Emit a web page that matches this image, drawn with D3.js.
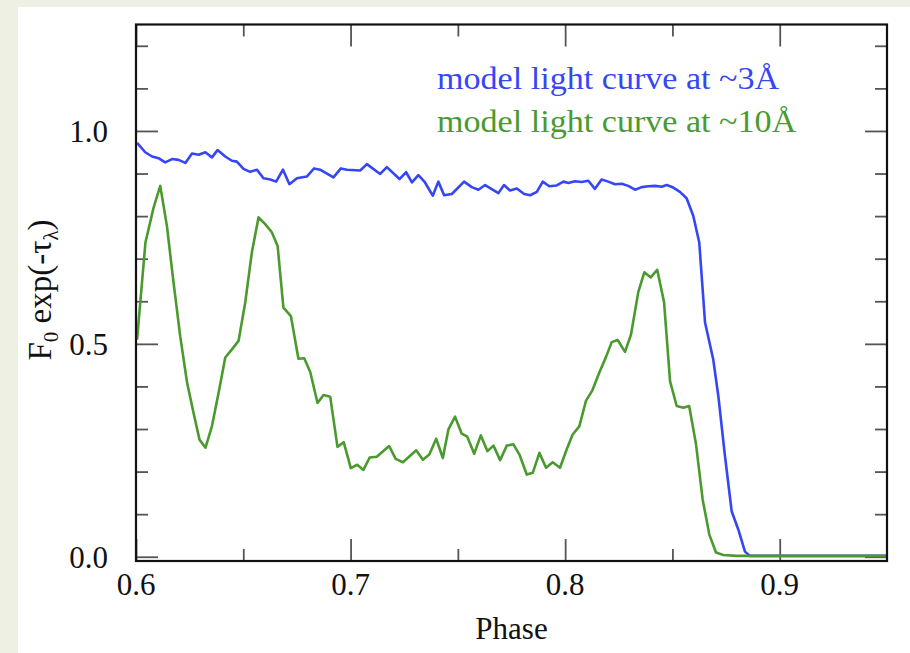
<!DOCTYPE html>
<html>
<head>
<meta charset="utf-8">
<script src="https://cdn.jsdelivr.net/npm/d3@7/dist/d3.min.js"></script>
<style>
  html, body { margin: 0; padding: 0; background: #eef0e3; }
  svg { display: block; }
  .tick-label { font-family: "Liberation Serif", "Times New Roman", serif; font-size: 31px; fill: #111; }
</style>
</head>
<body>
<svg id="chart" width="910" height="653"></svg>
<script>
// x ticks / y ticks
const xMajor = [0.6, 0.7, 0.8, 0.9];
const xMinor = [0.65, 0.75, 0.85];
const yMajor = [0.0, 0.5, 1.0];
const yMinor = [0.1, 0.2, 0.3, 0.4, 0.6, 0.7, 0.8, 0.9, 1.1, 1.2];

// model light curve at ~3Å : [phase, flux]
const curve3A = [
  [0.6005, 0.972], [0.6043, 0.950], [0.6075, 0.940], [0.6105, 0.936], [0.6136, 0.926],
  [0.6168, 0.934], [0.6198, 0.932], [0.6230, 0.925], [0.6261, 0.947], [0.6292, 0.944],
  [0.6323, 0.950], [0.6354, 0.938], [0.6380, 0.955], [0.6416, 0.940], [0.6447, 0.930],
  [0.6470, 0.928], [0.6501, 0.911], [0.6532, 0.904], [0.6564, 0.909], [0.6594, 0.889],
  [0.6626, 0.886], [0.6653, 0.881], [0.6685, 0.909], [0.6715, 0.875], [0.6750, 0.889],
  [0.6796, 0.893], [0.6830, 0.912], [0.6858, 0.909], [0.6920, 0.891], [0.6955, 0.912],
  [0.6983, 0.909], [0.7045, 0.907], [0.7076, 0.922], [0.7138, 0.899], [0.7169, 0.915],
  [0.7228, 0.887], [0.7259, 0.903], [0.7286, 0.879], [0.7316, 0.896], [0.7347, 0.879],
  [0.7383, 0.848], [0.7409, 0.881], [0.7436, 0.849], [0.7472, 0.852], [0.7529, 0.881],
  [0.7565, 0.868], [0.7596, 0.862], [0.7627, 0.873], [0.7689, 0.854], [0.7715, 0.873],
  [0.7743, 0.860], [0.7775, 0.865], [0.7809, 0.852], [0.7837, 0.849], [0.7868, 0.857],
  [0.7896, 0.881], [0.7926, 0.870], [0.7961, 0.872], [0.7992, 0.881], [0.8015, 0.878],
  [0.8046, 0.882], [0.8077, 0.880], [0.8108, 0.883], [0.8139, 0.864], [0.8170, 0.886],
  [0.8201, 0.881], [0.8232, 0.875], [0.8264, 0.876], [0.8294, 0.871], [0.8326, 0.862],
  [0.8357, 0.868], [0.8388, 0.870], [0.8419, 0.871], [0.8450, 0.869], [0.8473, 0.873],
  [0.8504, 0.867], [0.8535, 0.857], [0.8566, 0.842], [0.8597, 0.801], [0.8625, 0.738],
  [0.8652, 0.550], [0.8690, 0.464], [0.8714, 0.377], [0.8745, 0.236], [0.8776, 0.107],
  [0.8807, 0.064], [0.8838, 0.012], [0.8861, 0.002], [0.9500, 0.002]
];

// model light curve at ~10Å : [phase, flux]
const curve10A = [
  [0.6005, 0.510], [0.6044, 0.738], [0.6082, 0.820], [0.6113, 0.871], [0.6144, 0.777],
  [0.6175, 0.644], [0.6206, 0.518], [0.6238, 0.409], [0.6268, 0.338], [0.6296, 0.275],
  [0.6324, 0.256], [0.6354, 0.307], [0.6385, 0.385], [0.6416, 0.468], [0.6447, 0.487],
  [0.6478, 0.507], [0.6509, 0.597], [0.6540, 0.715], [0.6571, 0.797], [0.6602, 0.781],
  [0.6633, 0.762], [0.6660, 0.730], [0.6687, 0.585], [0.6722, 0.565], [0.6757, 0.465],
  [0.6784, 0.466], [0.6812, 0.434], [0.6846, 0.361], [0.6874, 0.380], [0.6905, 0.376],
  [0.6939, 0.258], [0.6968, 0.269], [0.7001, 0.208], [0.7031, 0.216], [0.7060, 0.204],
  [0.7089, 0.233], [0.7122, 0.235], [0.7180, 0.260], [0.7210, 0.230], [0.7244, 0.222],
  [0.7306, 0.250], [0.7337, 0.228], [0.7367, 0.240], [0.7399, 0.277], [0.7430, 0.232],
  [0.7456, 0.299], [0.7487, 0.329], [0.7518, 0.289], [0.7544, 0.282], [0.7576, 0.242],
  [0.7607, 0.285], [0.7638, 0.248], [0.7666, 0.261], [0.7697, 0.227], [0.7728, 0.261],
  [0.7759, 0.264], [0.7787, 0.240], [0.7821, 0.193], [0.7849, 0.197], [0.7880, 0.244],
  [0.7911, 0.209], [0.7942, 0.222], [0.7976, 0.209], [0.8007, 0.252], [0.8035, 0.287],
  [0.8066, 0.306], [0.8097, 0.366], [0.8126, 0.390], [0.8159, 0.432], [0.8191, 0.470],
  [0.8217, 0.504], [0.8245, 0.509], [0.8279, 0.481], [0.8307, 0.522], [0.8341, 0.622],
  [0.8369, 0.668], [0.8399, 0.656], [0.8429, 0.674], [0.8461, 0.598], [0.8489, 0.412],
  [0.8520, 0.354], [0.8551, 0.350], [0.8578, 0.354], [0.8610, 0.264], [0.8641, 0.134],
  [0.8672, 0.052], [0.8703, 0.010], [0.8737, 0.004], [0.8799, 0.002], [0.9500, 0.002]
];

const legendLabels = ["model light curve at ~3Å", "model light curve at ~10Å"];
const colors = ["#3546f5", "#4a9a2e"];

const svg = d3.select("#chart");
const W = 910, H = 653;
const m = { left: 136, right: 887, top: 24.5, bottom: 561 };

// white page panel over the tinted background
svg.append("rect").attr("x", 18).attr("y", 7).attr("width", W - 18).attr("height", H - 7).attr("fill", "#fff");

const x = d3.scaleLinear().domain([0.6, 0.95]).range([m.left, m.right]);
const y = d3.scaleLinear().domain([-0.01, 1.25]).range([m.bottom, m.top]);

// Inward ticks on all four sides (major long, minor short)
function tickAxis(axisFn, scale, values, size, tx, ty) {
    const g = svg.append("g")
        .attr("transform", `translate(${tx},${ty})`)
        .call(axisFn(scale).tickValues(values).tickSize(-size).tickFormat(""));
    g.select(".domain").remove();
    g.selectAll(".tick line").attr("stroke", "#555").attr("stroke-width", 1.8);
    return g;
}
tickAxis(d3.axisBottom, x, xMajor, 22, 0, m.bottom);
tickAxis(d3.axisBottom, x, xMinor, 12, 0, m.bottom);
tickAxis(d3.axisTop, x, xMajor, 22, 0, m.top);
tickAxis(d3.axisTop, x, xMinor, 12, 0, m.top);
tickAxis(d3.axisLeft, y, yMajor, 22, m.left, 0);
tickAxis(d3.axisLeft, y, yMinor, 12, m.left, 0);
tickAxis(d3.axisRight, y, yMajor, 22, m.right, 0);
tickAxis(d3.axisRight, y, yMinor, 12, m.right, 0);

// tick labels
svg.append("g").selectAll("text").data(xMajor).join("text")
    .attr("class", "tick-label")
    .attr("x", d => x(d)).attr("y", 595)
    .attr("text-anchor", "middle")
    .text(d => d.toFixed(1));
svg.append("g").selectAll("text").data(yMajor).join("text")
    .attr("class", "tick-label")
    .attr("x", 108).attr("y", d => y(d) + 11)
    .attr("text-anchor", "end")
    .text(d => d.toFixed(1));

// curves
const line = d3.line().x(d => x(d[0])).y(d => y(d[1]));
svg.append("path").datum(curve3A)
    .attr("d", line).attr("fill", "none")
    .attr("stroke", colors[0]).attr("stroke-width", 2.6).attr("stroke-linejoin", "round");
svg.append("path").datum(curve10A)
    .attr("d", line).attr("fill", "none")
    .attr("stroke", colors[1]).attr("stroke-width", 2.6).attr("stroke-linejoin", "round");

// frame
svg.append("rect")
    .attr("x", m.left).attr("y", m.top).attr("width", m.right - m.left).attr("height", m.bottom - m.top)
    .attr("fill", "none").attr("stroke", "#111").attr("stroke-width", 2.2);

// legend text
svg.append("g").selectAll("text").data(legendLabels).join("text")
    .attr("transform", (d, i) => `translate(437, ${89 + i * 43}) scale(1.1, 1)`)
    .attr("font-family", "'Liberation Serif', 'Times New Roman', serif")
    .attr("font-size", 31)
    .attr("fill", (d, i) => colors[i])
    .text(d => d);

// axis titles
svg.append("text")
    .attr("class", "tick-label")
    .attr("x", x(0.775)).attr("y", 639)
    .attr("text-anchor", "middle")
    .text("Phase");

const yTitle = svg.append("text")
    .attr("class", "tick-label")
    .attr("font-size", 33)
    .style("font-size", "33px")
    .attr("transform", "translate(51, 290) rotate(-90)")
    .attr("text-anchor", "middle");
yTitle.append("tspan").text("F");
yTitle.append("tspan").style("font-size", "21px").attr("dy", 7).text("0");
yTitle.append("tspan").attr("dy", -7).text(" exp(-τ");
yTitle.append("tspan").style("font-size", "21px").attr("dy", 7).text("λ");
yTitle.append("tspan").attr("dy", -7).text(")");
</script>
</body>
</html>
